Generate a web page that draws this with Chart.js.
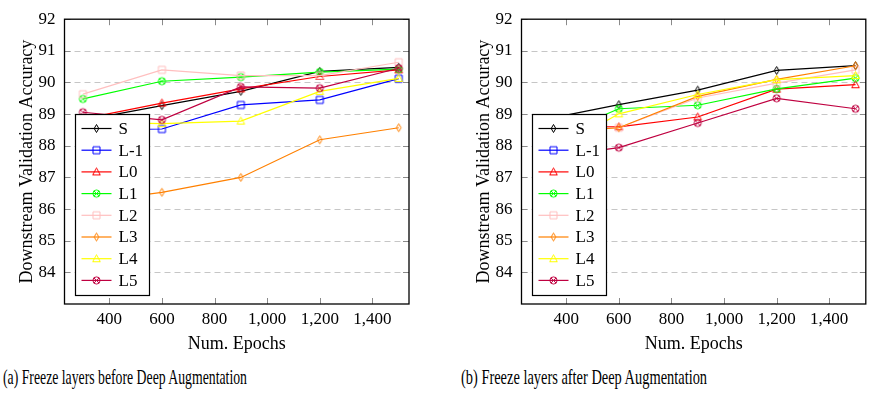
<!DOCTYPE html>
<html lang="en">
<head>
<meta charset="UTF-8">
<title>Freeze layers – Deep Augmentation</title>
<script src="https://cdn.jsdelivr.net/npm/chart.js@4.4.0/dist/chart.umd.min.js"></script>
<style>
  body {
    margin: 0;
    width: 871px;
    height: 400px;
    position: relative;
    overflow: hidden;
    background: #fff;
    font-family: "Liberation Serif", serif;
  }
  canvas { position: absolute; top: 0; }
  #chartBefore { left: 0; }
  #chartAfter { left: 457px; }
  .caption {
    position: absolute;
    top: 366px;
    font-size: 22px;
    line-height: 22px;
    white-space: nowrap;
    color: #000;
    transform-origin: left top;
  }
  #capBefore { left: 3px; }
  #capAfter { left: 461px; }
</style>
</head>
<body>

<canvas id="chartBefore" width="430" height="360"></canvas>
<canvas id="chartAfter" width="414" height="360"></canvas>
<div class="caption" id="capBefore" data-w="244">(a) Freeze layers before Deep Augmentation</div>
<div class="caption" id="capAfter" data-w="246">(b) Freeze layers after Deep Augmentation</div>

<script>
  // epochs on the x axis
  const epochs = [300, 600, 900, 1200, 1500];
  const xTicks = [400, 600, 800, 1000, 1200, 1400];
  const yTicks = [84, 85, 86, 87, 88, 89, 90, 91, 92];

  const seriesNames  = ['S', 'L-1', 'L0', 'L1', 'L2', 'L3', 'L4', 'L5'];
  const seriesColors = ['#000000', '#0000ff', '#ff0000', '#00ff00', '#ffbfbf', '#ff8000', '#ffff00', '#bf0040'];
  const seriesMarks  = ['diamond', 'square', 'triangle', 'otimes', 'square', 'diamond', 'triangle', 'otimes'];

  // (a) layers frozen before deep augmentation
  const beforeS   = [88.80, 89.27, 89.72, 90.35, 90.48];
  const beforeLm1 = [88.50, 88.53, 89.29, 89.45, 90.12];
  const beforeL0  = [88.85, 89.35, 89.80, 90.19, 90.40];
  const beforeL1  = [89.48, 90.04, 90.17, 90.33, 90.42];
  const beforeL2  = [89.63, 90.40, 90.22, 90.22, 90.64];
  const beforeL3  = [86.20, 86.53, 87.00, 88.19, 88.57];
  const beforeL4  = [88.75, 88.70, 88.78, 89.72, 90.13];
  const beforeL5  = [89.06, 88.82, 89.86, 89.82, 90.45];

  // (b) layers frozen after deep augmentation
  const afterS   = [88.80, 89.30, 89.76, 90.38, 90.53];
  const afterLm1 = [];
  const afterL0  = [88.60, 88.60, 88.91, 89.79, 89.93];
  const afterL1  = [88.10, 89.17, 89.28, 89.80, 90.14];
  const afterL2  = [88.50, 88.57, 89.51, 89.98, 90.40];
  const afterL3  = [88.40, 88.57, 89.56, 90.10, 90.53];
  const afterL4  = [87.60, 89.01, 89.62, 90.09, 90.22];
  const afterL5  = [87.60, 87.94, 88.72, 89.50, 89.17];

  const serif = '"Liberation Serif", "Times New Roman", serif';

  // hollow pgfplots-like marks, drawn once into small canvases
  function makeMark(shape, color) {
    const c = document.createElement('canvas');
    c.width = 11; c.height = 11;
    const g = c.getContext('2d');
    const m = 5.5;
    g.strokeStyle = color;
    g.lineWidth = 1;
    g.beginPath();
    if (shape === 'square') {
      g.rect(2, 2, 7, 7);
    } else if (shape === 'diamond') {
      g.moveTo(m, 1.5); g.lineTo(m + 2.3, m); g.lineTo(m, 9.5); g.lineTo(m - 2.3, m); g.closePath();
    } else if (shape === 'triangle') {
      g.moveTo(m, 1.5); g.lineTo(9.3, 8.5); g.lineTo(1.7, 8.5); g.closePath();
    } else {
      g.arc(m, m, 3.6, 0, Math.PI * 2);
      const d = 3.6 * Math.SQRT1_2;
      g.moveTo(m - d, m - d); g.lineTo(m + d, m + d);
      g.moveTo(m + d, m - d); g.lineTo(m - d, m + d);
    }
    g.stroke();
    return c;
  }

  const marks = seriesMarks.map((s, i) => makeMark(s, seriesColors[i]));

  // dashed grid underneath, inward ticks + frame + boxed legend on top
  const axisDecor = {
    id: 'axisDecor',
    beforeDatasetsDraw(chart) {
      const { ctx, chartArea: a, scales: { y } } = chart;
      ctx.save();
      ctx.strokeStyle = '#c6c6c6';
      ctx.lineWidth = 1;
      ctx.setLineDash([6, 4]);
      yTicks.forEach(v => {
        if (v >= 92) return;
        const py = Math.round(y.getPixelForValue(v)) + 0.5;
        ctx.beginPath();
        ctx.moveTo(a.left, py);
        ctx.lineTo(a.right, py);
        ctx.stroke();
      });
      ctx.restore();
    },
    afterDatasetsDraw(chart) {
      const { ctx, chartArea: a, scales: { x, y } } = chart;
      ctx.save();
      ctx.strokeStyle = '#8a8a8a';
      ctx.lineWidth = 1;
      const tl = 6;
      xTicks.forEach(v => {
        const px = Math.round(x.getPixelForValue(v)) + 0.5;
        ctx.beginPath();
        ctx.moveTo(px, a.bottom); ctx.lineTo(px, a.bottom - tl);
        ctx.moveTo(px, a.top); ctx.lineTo(px, a.top + tl);
        ctx.stroke();
      });
      yTicks.forEach(v => {
        const py = Math.round(y.getPixelForValue(v)) + 0.5;
        ctx.beginPath();
        ctx.moveTo(a.left, py); ctx.lineTo(a.left + tl, py);
        ctx.moveTo(a.right, py); ctx.lineTo(a.right - tl, py);
        ctx.stroke();
      });

      ctx.strokeStyle = '#000';
      ctx.lineWidth = 1.3;
      ctx.strokeRect(a.left, a.top, a.right - a.left, a.bottom - a.top);

      // legend box
      const bx = a.left + 11, by = 114.5, bw = 74, bh = 181;
      ctx.fillStyle = '#fff';
      ctx.fillRect(bx, by, bw, bh);
      ctx.lineWidth = 1.2;
      ctx.strokeRect(bx, by, bw, bh);
      ctx.font = '17px ' + serif;
      ctx.textBaseline = 'middle';
      chart.data.datasets.forEach((ds, i) => {
        const ry = by + 14 + i * 21.7;
        ctx.strokeStyle = ds.borderColor;
        ctx.lineWidth = ds.borderWidth;
        ctx.beginPath();
        ctx.moveTo(bx + 6, ry);
        ctx.lineTo(bx + 36, ry);
        ctx.stroke();
        const mk = ds.pointStyle;
        ctx.drawImage(mk, bx + 21 - mk.width / 2, ry - mk.height / 2);
        ctx.fillStyle = '#000';
        ctx.fillText(ds.label, bx + 43, ry + 1);
      });
      ctx.restore();
    }
  };

  function makeChart(id, series, padRight) {
    const n = series.length;
    return new Chart(document.getElementById(id), {
      type: 'line',
      data: {
        datasets: series.map((vals, i) => ({
          label: seriesNames[i],
          data: vals.map((v, k) => ({ x: epochs[k], y: v })),
          borderColor: seriesColors[i],
          backgroundColor: seriesColors[i],
          borderWidth: 1.2,
          pointStyle: marks[i],
          pointRadius: 4,
          tension: 0,
          order: n - i
        }))
      },
      options: {
        responsive: false,
        animation: false,
        locale: 'en-US',
        layout: { padding: { top: 17, right: padRight, left: 0, bottom: 0 } },
        plugins: {
          legend: { display: false },
          tooltip: { enabled: false }
        },
        scales: {
          x: {
            type: 'linear',
            min: 230,
            max: 1539,
            afterBuildTicks: s => { s.ticks = xTicks.map(v => ({ value: v })); },
            afterFit: s => { s.height = 56; },
            grid: { display: false, drawTicks: false },
            border: { display: false },
            ticks: { color: '#000', font: { family: serif, size: 17 }, padding: 5, maxRotation: 0, autoSkip: false },
            title: {
              display: true,
              text: 'Num. Epochs',
              color: '#000',
              font: { family: serif, size: 18 },
              padding: { top: 0, bottom: 5 }
            }
          },
          y: {
            min: 83,
            max: 92,
            afterBuildTicks: s => { s.ticks = yTicks.map(v => ({ value: v })); },
            afterFit: s => { s.width = 64.5; },
            grid: { display: false, drawTicks: false },
            border: { display: false },
            ticks: { color: '#000', font: { family: serif, size: 17 }, padding: 9 },
            title: {
              display: true,
              text: 'Downstream Validation Accuracy',
              color: '#000',
              font: { family: serif, size: 18 },
              padding: { top: 16, bottom: 0 }
            }
          }
        }
      },
      plugins: [axisDecor]
    });
  }

  makeChart('chartBefore',
    [beforeS, beforeLm1, beforeL0, beforeL1, beforeL2, beforeL3, beforeL4, beforeL5], 21);
  makeChart('chartAfter',
    [afterS, afterLm1, afterL0, afterL1, afterL2, afterL3, afterL4, afterL5], 5);

  // squeeze the sub-captions to their set widths
  document.querySelectorAll('.caption').forEach(el => {
    const w = el.getBoundingClientRect().width;
    el.style.transform = 'scaleX(' + (Number(el.dataset.w) / w).toFixed(3) + ')';
  });
</script>

</body>
</html>
